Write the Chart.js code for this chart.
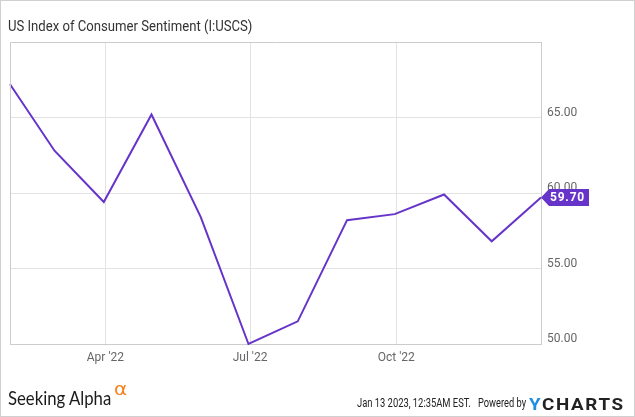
<!DOCTYPE html>
<html>
<head>
<meta charset="utf-8">
<script src="https://cdn.jsdelivr.net/npm/chart.js@4"></script>
<style>
  body { margin: 0; background: #fff; }
  #wrap { position: relative; width: 635px; height: 417px; overflow: hidden; font-family: Roboto, sans-serif; }
  #frame { position: absolute; left: 0; top: 0; width: 633px; height: 415px; border: 1px solid #d0d0d0; }
  canvas { position: absolute; left: 0; top: 0; }
  .txt { position: absolute; white-space: nowrap; transform-origin: left top; line-height: 1; }
  #title { left: 8px; top: 19px; font-size: 15px; color: #333; }
  #sa { left: 8px; top: 388px; font-family: Lato, sans-serif; font-size: 19px; color: #1a1a1a; }
  #alpha { left: 114px; top: 381px; font-family: "DejaVu Sans", sans-serif; font-size: 17px; color: #f5821f; }
  #stamp { left: 357px; top: 397px; font-size: 12px; color: #222; }
  #powered { left: 478px; top: 397px; font-size: 12px; color: #222; }
  #ycharts { left: 529px; top: 396px; font-size: 17px; font-weight: bold; color: #222; letter-spacing: 1.5px; }
  #ycharts span { color: #1e8fe1; }
</style>
</head>
<body>
<div id="wrap">
  <canvas id="myChart" width="635" height="417"></canvas>
  <div id="frame"></div>
  <div class="txt" id="title">US Index of Consumer Sentiment (I:USCS)</div>
  <div class="txt" id="sa">Seeking Alpha</div>
  <div class="txt" id="alpha">α</div>
  <div class="txt" id="stamp">Jan 13 2023, 12:35AM EST.</div>
  <div class="txt" id="powered">Powered by</div>
  <div class="txt" id="ycharts"><span>Y</span>CHARTS</div>
</div>
<script>
let dates = ["2022-01-31", "2022-02-28", "2022-03-31", "2022-04-30", "2022-05-31", "2022-06-30",
             "2022-07-31", "2022-08-31", "2022-09-30", "2022-10-31", "2022-11-30", "2022-12-31"]
let values = [67.2, 62.8, 59.4, 65.2, 58.4, 50.0, 51.5, 58.2, 58.6, 59.9, 56.8, 59.7]

let tickDates = ["2022-04-01", "2022-07-01", "2022-10-01"]
let tickLabels = ["Apr '22", "Jul '22", "Oct '22"]
let yTicks = [50, 55, 60, 65]

let lineColor = "#6634c9"

// days since first point
let day = (d) => (Date.parse(d) - Date.parse(dates[0])) / 864e5

let points = dates.map((d, i) => ({ x: day(d), y: values[i] }))

let extras = {
  id: "extras",
  afterDraw(chart) {
    let c = chart.ctx
    let a = chart.chartArea
    c.save()
    c.strokeStyle = "#cccccc"
    c.lineWidth = 1
    c.beginPath()
    c.moveTo(a.left + 0.5, a.bottom)
    c.lineTo(a.left + 0.5, a.top + 0.5)
    c.lineTo(a.right, a.top + 0.5)
    c.stroke()

    // last value tag
    let last = values[values.length - 1]
    let py = chart.scales.y.getPixelForValue(last)
    let x = a.right
    c.fillStyle = lineColor
    c.beginPath()
    c.moveTo(x, py)
    c.lineTo(x + 8, py - 8.5)
    c.lineTo(x + 48, py - 8.5)
    c.lineTo(x + 48, py + 8.5)
    c.lineTo(x + 8, py + 8.5)
    c.closePath()
    c.fill()
    c.fillStyle = "#fff"
    c.font = "bold 12px Roboto"
    c.letterSpacing = "0.8px"
    c.textBaseline = "middle"
    c.fillText(last.toFixed(2), x + 9, py + 0.5)
    c.restore()
  }
}

let ctx = document.getElementById("myChart")
let myChart = new Chart(ctx, {
  type: "line",
  data: {
    datasets: [{
      data: points,
      borderColor: lineColor,
      borderWidth: 2,
      pointRadius: 0,
      tension: 0,
      clip: false
    }]
  },
  options: {
    responsive: false,
    animation: false,
    layout: { padding: { left: 10, top: 42, right: 0, bottom: 0 } },
    plugins: { legend: { display: false }, tooltip: { enabled: false } },
    scales: {
      x: {
        type: "linear",
        min: 0,
        max: day(dates[dates.length - 1]),
        afterBuildTicks: (s) => { s.ticks = tickDates.map((d) => ({ value: day(d) })) },
        afterFit: (s) => { s.height = 73 },
        grid: { color: "#e3e3e3", drawTicks: false },
        border: { color: "#cccccc" },
        ticks: {
          padding: 7,
          maxRotation: 0,
          color: "#666",
          font: { family: "Roboto", size: 12 },
          callback: (v, i) => tickLabels[i]
        }
      },
      y: {
        position: "right",
        min: 50,
        max: 70,
        afterBuildTicks: (s) => { s.ticks = yTicks.map((v) => ({ value: v })) },
        afterFit: (s) => { s.width = 94 },
        grid: { color: "#e3e3e3", drawTicks: false },
        border: { color: "#cccccc" },
        ticks: {
          padding: 6,
          labelOffset: -5,
          color: "#666",
          font: { family: "Roboto", size: 12 },
          callback: (v) => v.toFixed(2)
        }
      }
    }
  },
  plugins: [extras]
})

// squeeze texts to the widths seen in the reference
let fit = (id, w) => {
  let el = document.getElementById(id)
  el.style.transform = `scaleX(${w / el.offsetWidth})`
}
fit("title", 244)
fit("sa", 103)
fit("alpha", 13)
fit("stamp", 114)
fit("powered", 48)
fit("ycharts", 96)
</script>
</body>
</html>
